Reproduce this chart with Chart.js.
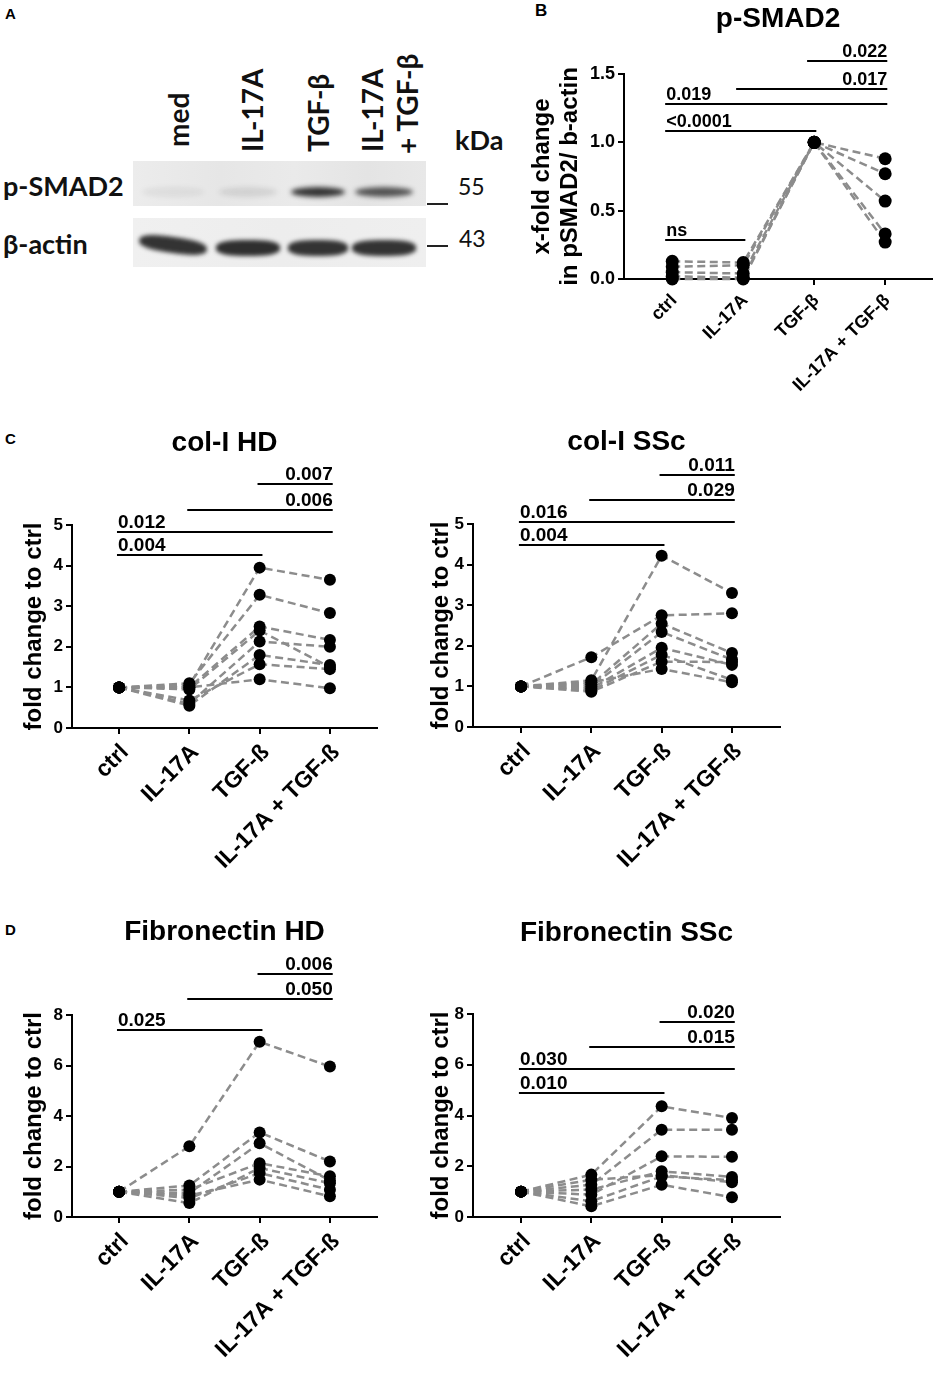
<!DOCTYPE html>
<html>
<head>
<meta charset="utf-8">
<title>IL-17A and TGF-β: p-SMAD2, col-I and Fibronectin</title>
<script src="https://cdn.jsdelivr.net/npm/chart.js@4.4.1/dist/chart.umd.min.js"></script>
<style>
  html, body { margin:0; padding:0; background:#fff; }
  #page { position:relative; width:936px; height:1375px; overflow:hidden; background:#fff; }
  .abs { position:absolute; }
  .letter { position:absolute; font-family:"Liberation Sans", Arial, sans-serif; font-weight:bold; font-size:15px; line-height:15px; color:#000; }
  .blotTxt { position:absolute; font-family:Lato, "Liberation Sans", sans-serif; font-weight:bold; color:#111; line-height:1; white-space:nowrap; }
  .lane { transform-origin:0 0; transform:rotate(-90deg); }
</style>
</head>
<body>
<div id="page"></div>
<script>
// ---------------- DATA ----------------
// Panel A (western blot): lane labels, rows, markers, relative band darkness
const laneLabels = ['med', 'IL-17A', 'TGF-β', 'IL-17A', '+ TGF-β'];
const blotRows = ['p-SMAD2', 'β-actin'];
const markerKDa = ['55', '43'];
const pSmadBand = [0.06, 0.10, 0.85, 0.70];
const actinBand = [0.88, 0.90, 0.88, 0.88];

// Panel B: p-SMAD2 (x-fold change, 5 donors)
const catsB = ['ctrl', 'IL-17A', 'TGF-β', 'IL-17A + TGF-β'];
const smadCtrl  = [0.13, 0.09, 0.05, 0.02, 0.00];
const smadIL17A = [0.12, 0.10, 0.04, 0.01, 0.00];
const smadTGF   = [1.00, 1.00, 1.00, 1.00, 1.00];
const smadCombo = [0.88, 0.77, 0.57, 0.33, 0.27];
const smadTicks = [0, 0.5, 1.0, 1.5];
const smadTickLabels = ['0.0', '0.5', '1.0', '1.5'];
const smadBrFrom  = [0, 0, 0, 1, 2];
const smadBrTo    = [1, 2, 3, 3, 3];
const smadBrLevel = [0.285, 1.083, 1.28, 1.39, 1.595];
const smadBrLabel = ['ns', '<0.0001', '0.019', '0.017', '0.022'];

// Panels C / D categories
const catsCD = ['ctrl', 'IL-17A', 'TGF-ß', 'IL-17A + TGF-ß'];

// col-I HD (8 donors)
const colHDCtrl  = [1, 1, 1, 1, 1, 1, 1, 1];
const colHDIL17A = [1.05, 1.10, 1.00, 0.95, 0.60, 0.55, 0.68, 1.00];
const colHDTGF   = [3.95, 3.28, 2.50, 2.40, 2.13, 1.80, 1.57, 1.20];
const colHDCombo = [3.65, 2.83, 2.17, 1.50, 2.00, 1.55, 1.45, 0.98];
const colTicks = [0, 1, 2, 3, 4, 5];
const colTickLabels = ['0', '1', '2', '3', '4', '5'];
const colHDBrFrom  = [0, 0, 1, 2];
const colHDBrTo    = [2, 3, 3, 3];
const colHDBrLevel = [4.26, 4.83, 5.37, 6.01];
const colHDBrLabel = ['0.004', '0.012', '0.006', '0.007'];

// col-I SSc (8 donors)
const colSScCtrl  = [1, 1, 1, 1, 1, 1, 1, 1];
const colSScIL17A = [1.15, 1.72, 1.05, 1.00, 0.95, 0.90, 0.87, 1.10];
const colSScTGF   = [4.22, 2.75, 2.55, 2.34, 1.95, 1.78, 1.61, 1.43];
const colSScCombo = [3.30, 2.80, 1.82, 1.66, 1.53, 1.16, 1.60, 1.10];
const colSScBrFrom  = [0, 0, 1, 2];
const colSScBrTo    = [2, 3, 3, 3];
const colSScBrLevel = [4.48, 5.05, 5.59, 6.21];
const colSScBrLabel = ['0.004', '0.016', '0.029', '0.011'];

// Fibronectin HD (7 donors)
const fibHDCtrl  = [1, 1, 1, 1, 1, 1, 1];
const fibHDIL17A = [2.80, 1.25, 0.95, 1.08, 0.55, 0.75, 0.85];
const fibHDTGF   = [6.94, 3.35, 2.92, 2.13, 1.94, 1.74, 1.48];
const fibHDCombo = [5.96, 2.20, 1.45, 1.61, 1.34, 1.08, 0.82];
const fibTicks = [0, 2, 4, 6, 8];
const fibTickLabels = ['0', '2', '4', '6', '8'];
const fibHDBrFrom  = [0, 1, 2];
const fibHDBrTo    = [2, 3, 3];
const fibHDBrLevel = [7.41, 8.63, 9.62];
const fibHDBrLabel = ['0.025', '0.050', '0.006'];

// Fibronectin SSc (7 donors)
const fibSScCtrl  = [1, 1, 1, 1, 1, 1, 1];
const fibSScIL17A = [1.67, 1.27, 0.88, 1.08, 0.62, 0.42, 1.47];
const fibSScTGF   = [4.36, 3.44, 2.39, 1.80, 1.60, 1.27, 1.65];
const fibSScCombo = [3.90, 3.44, 2.37, 1.58, 1.45, 0.78, 1.37];
const fibSScBrFrom  = [0, 0, 1, 2];
const fibSScBrTo    = [2, 3, 3, 3];
const fibSScBrLevel = [4.89, 5.83, 6.70, 7.68];
const fibSScBrLabel = ['0.010', '0.030', '0.015', '0.020'];

// ---------------- RENDERING ----------------
const FONT = '"Liberation Sans", Arial, Helvetica, sans-serif';
const page = document.getElementById('page');

function addDiv(cls, text, css) {
  const d = document.createElement('div');
  if (cls) d.className = cls;
  if (text !== null) d.textContent = text;
  Object.assign(d.style, css);
  page.appendChild(d);
  return d;
}

// panel letters
addDiv('letter', 'A', {left:'5px', top:'6px'});
addDiv('letter', 'B', {left:'535px', top:'3px', fontSize:'17px'});
addDiv('letter', 'C', {left:'5px', top:'431px'});
addDiv('letter', 'D', {left:'5px', top:'922px'});

// ---- Panel A: western blot drawn with CSS ----
(function drawBlot() {
  const laneBaseX = [188, 262, 328, 382, 417];
  const laneBottomY = [147, 152, 152, 152, 154];
  const fs = 28;
  laneLabels.forEach((t, i) => {
    addDiv('blotTxt lane', t, {left:(laneBaseX[i] - 0.86 * fs) + 'px', top: laneBottomY[i] + 'px', fontSize: fs + 'px'});
  });
  addDiv('blotTxt', 'kDa', {left:'455px', top:'126px', fontSize:'27px'});
  addDiv('blotTxt', blotRows[0], {left:'3px', top:'172px', fontSize:'27px'});
  addDiv('blotTxt', blotRows[1], {left:'3px', top:'230px', fontSize:'27px'});
  addDiv('blotTxt', markerKDa[0], {left:'458px', top:'175px', fontSize:'23px', fontWeight:'normal'});
  addDiv('blotTxt', markerKDa[1], {left:'459px', top:'227px', fontSize:'23px', fontWeight:'normal'});
  addDiv('abs', null, {left:'427px', top:'203px', width:'21px', height:'2px', background:'#222'});
  addDiv('abs', null, {left:'427px', top:'245px', width:'21px', height:'2px', background:'#222'});

  const b1 = addDiv('abs', null, {left:'133px', top:'161px', width:'293px', height:'45px', overflow:'hidden',
    background:'linear-gradient(90deg,#ececec 0%,#e6e6e6 30%,#eaeaea 55%,#e4e4e4 80%,#e8e8e8 100%)'});
  const b2 = addDiv('abs', null, {left:'133px', top:'218px', width:'293px', height:'49px', overflow:'hidden',
    background:'linear-gradient(90deg,#f0f0f0 0%,#ededed 50%,#efefef 100%)'});
  const laneCx = [40, 115, 185, 251];
  const laneW = [62, 58, 54, 58];
  pSmadBand.forEach((v, i) => {
    const band = document.createElement('div');
    Object.assign(band.style, {position:'absolute', left:(laneCx[i] - laneW[i] / 2) + 'px', top:'26px',
      width: laneW[i] + 'px', height:'10px', borderRadius:'50%',
      background:'rgba(20,20,20,' + v + ')', filter:'blur(2.5px)'});
    b1.appendChild(band);
  });
  actinBand.forEach((v, i) => {
    const band = document.createElement('div');
    Object.assign(band.style, {position:'absolute', left:(laneCx[i] - laneW[i] / 2 - 3) + 'px', top: (i === 0 ? '19px' : '22px'),
      width: (laneW[i] + 6) + 'px', height:'16px', borderRadius:'40%',
      background:'rgba(25,25,25,' + v + ')', filter:'blur(2px)',
      transform: i === 0 ? 'rotate(8deg)' : 'none'});
    b2.appendChild(band);
  });
})();

// ---- paired dot/line charts ----
function pairedChart(spec, box) {
  const wrap = addDiv('abs', null, {left: box.left + 'px', top: box.top + 'px', width: box.width + 'px', height: box.height + 'px'});
  const cv = document.createElement('canvas');
  wrap.appendChild(cv);
  const groups = spec.groups;
  const nDonor = groups[0].length;
  const datasets = [];
  for (let d = 0; d < nDonor; d++) {
    datasets.push({
      type: 'line', label: 'donor ' + (d + 1),
      data: groups.map((g, i) => ({x: i, y: g[d]})),
      borderColor: '#8c8c8c', borderWidth: box.lineW, borderDash: [8, 4.5],
      pointRadius: 0, fill: false, tension: 0, order: 2, clip: false
    });
  }
  const pts = [];
  groups.forEach((g, i) => g.forEach(v => pts.push({x: i, y: v})));
  datasets.push({type: 'scatter', label: 'values', data: pts, pointRadius: box.r, pointHoverRadius: box.r,
    pointBackgroundColor: '#000', pointBorderColor: '#000', pointBorderWidth: 0, order: 0, clip: false});

  const brackets = {
    id: 'brackets',
    afterDraw(chart) {
      const ctx = chart.ctx, xs = chart.scales.x, ys = chart.scales.y;
      ctx.save();
      ctx.strokeStyle = '#000'; ctx.lineWidth = 2; ctx.fillStyle = '#000';
      ctx.font = 'bold ' + box.brFont + 'px ' + FONT;
      ctx.textBaseline = 'alphabetic';
      spec.brFrom.forEach((f, k) => {
        const t = spec.brTo[k];
        const x1 = xs.getPixelForValue(f + box.brStart);
        const x2 = xs.getPixelForValue(t + box.brEnd);
        const py = Math.round(ys.getPixelForValue(spec.brLevel[k]));
        ctx.beginPath(); ctx.moveTo(x1, py); ctx.lineTo(x2, py); ctx.stroke();
        if (f === 0) { ctx.textAlign = 'left'; ctx.fillText(spec.brLabel[k], x1 + 1, py - 4); }
        else { ctx.textAlign = 'right'; ctx.fillText(spec.brLabel[k], x2, py - 4); }
      });
      ctx.restore();
    }
  };

  const axisGrid = {display: true, drawOnChartArea: false, drawTicks: true, tickLength: 6,
    tickWidth: 2, tickColor: '#000', color: '#000', lineWidth: 2};
  const axisBorder = {display: true, color: '#000', width: 2};

  new Chart(cv, {
    type: 'scatter',
    data: {datasets},
    options: {
      responsive: true, maintainAspectRatio: false, animation: false, events: [],
      layout: {padding: 0},
      plugins: {
        legend: {display: false}, tooltip: {enabled: false},
        title: {display: true, text: spec.title, color: '#000',
          font: {family: FONT, size: 28, weight: 'bold', lineHeight: 1.2},
          padding: {top: box.titleTop, bottom: box.titleBottom}}
      },
      scales: {
        x: {
          type: 'linear', min: box.xMin, max: box.xMax,
          afterBuildTicks: s => { s.ticks = spec.cats.map((c, i) => ({value: i})); },
          afterFit: s => { s.height = box.xH; },
          ticks: {autoSkip: false, maxRotation: 45, minRotation: 45, padding: box.xPad, labelOffset: box.xOff, color: '#000',
            font: {family: FONT, size: box.xFont, weight: 'bold'},
            callback: v => spec.cats[v]},
          grid: axisGrid, border: axisBorder
        },
        y: {
          type: 'linear', min: spec.yTicks[0], max: spec.yTicks[spec.yTicks.length - 1],
          afterBuildTicks: s => { s.ticks = spec.yTicks.map(v => ({value: v})); },
          afterFit: s => { s.width = box.yW; },
          ticks: {autoSkip: false, padding: 3, color: '#000',
            font: {family: FONT, size: box.yFont, weight: 'bold'},
            callback: v => spec.yTickLabels[spec.yTicks.indexOf(v)]},
          grid: axisGrid, border: axisBorder,
          title: {display: true, text: spec.yTitle, color: '#000',
            font: {family: FONT, size: 24, weight: 'bold', lineHeight: 1.2},
            padding: {top: box.yTitlePad, bottom: 0}}
        },
        // empty right-hand spacer so the title centres over the plot area
        yRight: {
          type: 'linear', position: 'right', display: true,
          ticks: {display: false}, grid: {display: false, drawTicks: false}, border: {display: false},
          afterFit: s => { s.width = box.padR; }
        }
      }
    },
    plugins: [brackets]
  });
}

const common = {xFont: 23, yFont: 17, brFont: 19, brStart: -0.03, brEnd: 0.04, r: 6, lineW: 2.5, xPad: 5, xOff: 6};

pairedChart({
  title: 'p-SMAD2', cats: catsB, groups: [smadCtrl, smadIL17A, smadTGF, smadCombo],
  yTicks: smadTicks, yTickLabels: smadTickLabels, yTitle: ['x-fold change', 'in pSMAD2/ b-actin'],
  brFrom: smadBrFrom, brTo: smadBrTo, brLevel: smadBrLevel, brLabel: smadBrLabel
}, Object.assign({}, common, {left: 520, top: 0, width: 516, height: 410, yW: 104, padR: 104, xH: 131,
  titleTop: 2.2, titleBottom: 38.2, yTitlePad: 7.6, xMin: -0.68, xMax: 3.66,
  xFont: 18, yFont: 18, brFont: 18, brStart: -0.1, brEnd: 0.03, r: 6.5, xPad: 5, xOff: 2}));

pairedChart({
  title: 'col-I HD', cats: catsCD, groups: [colHDCtrl, colHDIL17A, colHDTGF, colHDCombo],
  yTicks: colTicks, yTickLabels: colTickLabels, yTitle: 'fold change to ctrl',
  brFrom: colHDBrFrom, brTo: colHDBrTo, brLevel: colHDBrLevel, brLabel: colHDBrLabel
}, Object.assign({}, common, {left: 0, top: 400, width: 449, height: 480, yW: 72, padR: 72, xH: 152,
  titleTop: 26.2, titleBottom: 65.2, yTitlePad: 19.6, xMin: -0.67, xMax: 3.67}));

pairedChart({
  title: 'col-I SSc', cats: catsCD, groups: [colSScCtrl, colSScIL17A, colSScTGF, colSScCombo],
  yTicks: colTicks, yTickLabels: colTickLabels, yTitle: 'fold change to ctrl',
  brFrom: colSScBrFrom, brTo: colSScBrTo, brLevel: colSScBrLevel, brLabel: colSScBrLabel
}, Object.assign({}, common, {left: 420, top: 400, width: 413, height: 480, yW: 53, padR: 53, xH: 153,
  titleTop: 25.2, titleBottom: 65.2, yTitlePad: 6.6, xMin: -0.683, xMax: 3.683}));

pairedChart({
  title: 'Fibronectin HD', cats: catsCD, groups: [fibHDCtrl, fibHDIL17A, fibHDTGF, fibHDCombo],
  yTicks: fibTicks, yTickLabels: fibTickLabels, yTitle: 'fold change to ctrl',
  brFrom: fibHDBrFrom, brTo: fibHDBrTo, brLevel: fibHDBrLevel, brLabel: fibHDBrLabel
}, Object.assign({}, common, {left: 0, top: 890, width: 449, height: 485, yW: 72, padR: 72, xH: 158,
  titleTop: 25.2, titleBottom: 66.2, yTitlePad: 19.6, xMin: -0.67, xMax: 3.67}));

pairedChart({
  title: 'Fibronectin SSc', cats: catsCD, groups: [fibSScCtrl, fibSScIL17A, fibSScTGF, fibSScCombo],
  yTicks: fibTicks, yTickLabels: fibTickLabels, yTitle: 'fold change to ctrl',
  brFrom: fibSScBrFrom, brTo: fibSScBrTo, brLevel: fibSScBrLevel, brLabel: fibSScBrLabel
}, Object.assign({}, common, {left: 420, top: 890, width: 413, height: 485, yW: 53, padR: 53, xH: 158,
  titleTop: 26.2, titleBottom: 64.2, yTitlePad: 6.6, xMin: -0.683, xMax: 3.683}));
</script>
</body>
</html>
